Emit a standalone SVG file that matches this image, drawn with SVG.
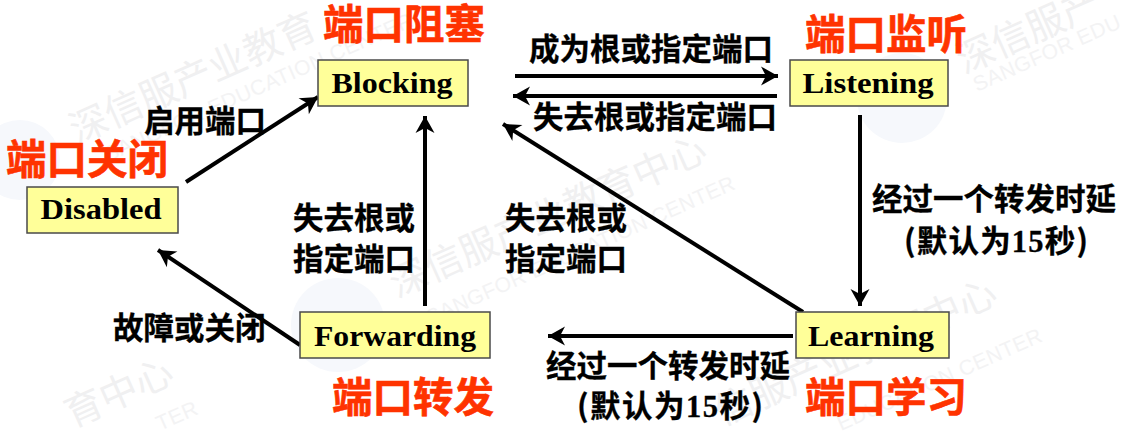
<svg xmlns="http://www.w3.org/2000/svg" width="1136" height="434" viewBox="0 0 1136 434">
<style>
text{font-family:"Noto Sans CJK SC","Liberation Sans",sans-serif;font-weight:700}
.box{fill:#FFFF99;stroke:#4a4a4a;stroke-width:1.5}
.name{font-family:"Liberation Serif","DejaVu Serif",serif;font-size:30px;fill:#000;text-anchor:middle}
.red{font-size:40.500px;fill:#FF3300;stroke:#FF3300;stroke-width:.6}
.lab{font-size:30.500px;fill:#000;stroke:#000;stroke-width:.3}
.num{font-family:"Liberation Serif",serif}
.wm{font-size:38px;fill:#f0f0f1;font-weight:400}
.ws{font-size:21px;fill:#f3f3f4;font-weight:400;font-family:"Liberation Sans",sans-serif;letter-spacing:.5px}
.logo{fill:#f6f8fc;stroke:none}
.c{fill:none;stroke:#000;stroke-width:4;marker-end:url(#a)}
</style>
<defs>
<marker id="a" markerUnits="userSpaceOnUse" markerWidth="24" markerHeight="24" viewBox="0 0 24 24" refX="20" refY="12" orient="auto">
<path d="M3 2.500L20 12L3 21.500L8 12Z" fill="#000"/>
</marker>
</defs>
<rect width="1136" height="434" fill="#fff"/>
<g id="watermarks">
<circle class="logo" cx="20" cy="160" r="40"/>
<circle class="logo" cx="338" cy="325" r="47"/>
<circle class="logo" cx="902" cy="98" r="45"/>
<text class="wm" transform="translate(77,144) rotate(-24)">深信服产业教育</text>
<text class="ws" transform="translate(108,162) rotate(-24)">SANGFOR EDUCATION CENTER</text>
<text class="wm" transform="translate(397,298) rotate(-24)">深信服产业教育中心</text>
<text class="ws" transform="translate(430,325) rotate(-24)">SANGFOR EDUCATION CENTER</text>
<text class="wm" transform="translate(722,426) rotate(-24)">信服产业教育中心</text>
<text class="ws" transform="translate(841,431) rotate(-24)">EDUCATION CENTER</text>
<text class="wm" transform="translate(964,74) rotate(-24)">深信服产</text>
<text class="ws" transform="translate(977,92) rotate(-24)">SANGFOR EDU</text>
<text class="wm" transform="translate(72,428) rotate(-24)">育中心</text>
<text class="ws" transform="translate(160,431) rotate(-24)">TER</text>
</g>
<g id="connectors">
<path class="c" d="M186 182L318 97"/>
<path class="c" d="M425 306V116"/>
<path class="c" d="M300 345L158 250"/>
<path class="c" d="M803 312L503 124"/>
<path class="c" d="M515 76H778"/>
<path class="c" d="M777 96H513"/>
<path class="c" d="M860 115V306"/>
<path class="c" d="M793 336H548"/>
</g>
<g id="disabled"><rect class="box" x="27" y="187" width="151" height="46"/><text class="name" x="101" y="219" textLength="121" lengthAdjust="spacingAndGlyphs">Disabled</text></g>
<g id="blocking"><rect class="box" x="318" y="60" width="150" height="46"/><text class="name" x="392" y="93" textLength="121" lengthAdjust="spacingAndGlyphs">Blocking</text></g>
<g id="listening"><rect class="box" x="790" y="60" width="158" height="46"/><text class="name" x="868" y="93" textLength="131" lengthAdjust="spacingAndGlyphs">Listening</text></g>
<g id="forwarding"><rect class="box" x="300" y="312" width="190" height="46"/><text class="name" x="395" y="346" textLength="162" lengthAdjust="spacingAndGlyphs">Forwarding</text></g>
<g id="learning"><rect class="box" x="796" y="312" width="153" height="46"/><text class="name" x="871" y="346" textLength="126" lengthAdjust="spacingAndGlyphs">Learning</text></g>
<g id="labels">
<text class="red" x="323" y="39">端口阻塞</text>
<text class="red" x="6" y="174">端口关闭</text>
<text class="red" x="805" y="49">端口监听</text>
<text class="red" x="332" y="412">端口转发</text>
<text class="red" x="805" y="412">端口学习</text>
<text class="lab" x="144" y="132">启用端口</text>
<text class="lab" x="529" y="60">成为根或指定端口</text>
<text class="lab" x="533" y="128">失去根或指定端口</text>
<text class="lab" x="293" y="229">失去根或</text>
<text class="lab" x="293" y="270">指定端口</text>
<text class="lab" x="505" y="229">失去根或</text>
<text class="lab" x="505" y="270">指定端口</text>
<text class="lab" x="113" y="339">故障或关闭</text>
<text class="lab" x="872" y="210">经过一个转发时延</text>
<text class="lab" x="904" y="252" textLength="184">(默认为<tspan class="num">15</tspan>秒)</text>
<text class="lab" x="546" y="377">经过一个转发时延</text>
<text class="lab" x="577" y="417" textLength="186">(默认为<tspan class="num">15</tspan>秒)</text>
</g>
</svg>
